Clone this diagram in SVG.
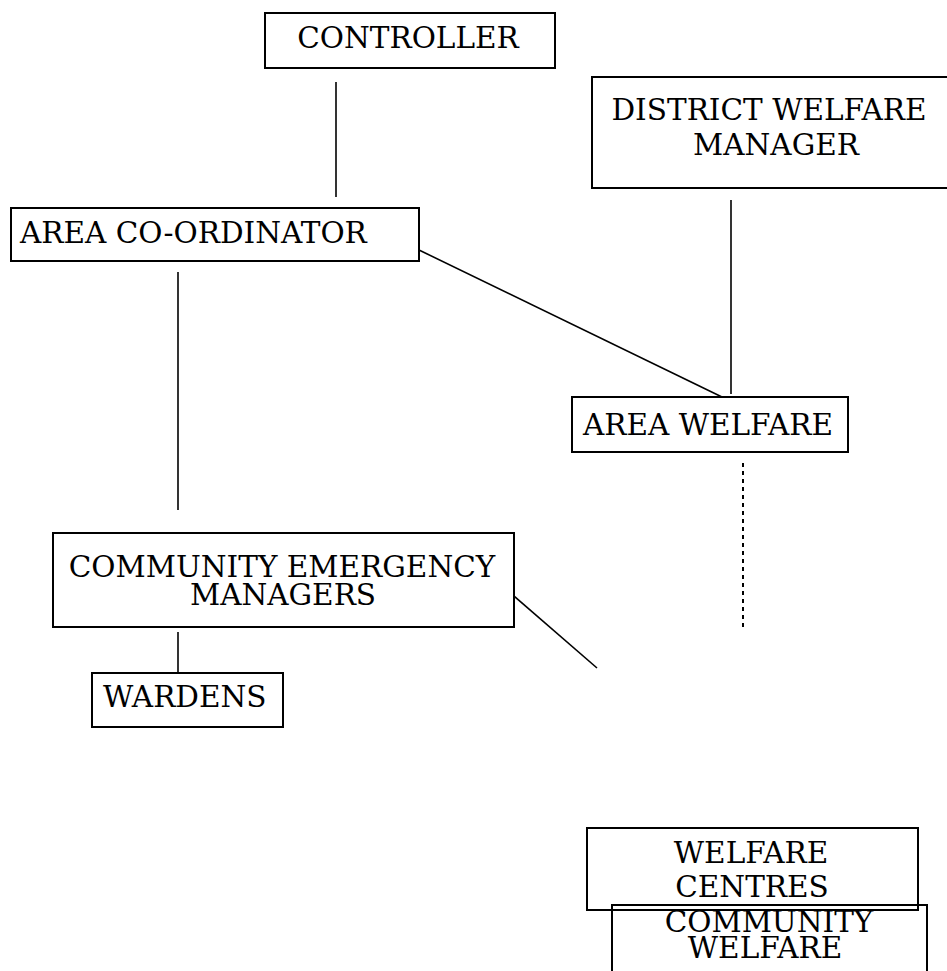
<svg xmlns="http://www.w3.org/2000/svg" width="947" height="971" viewBox="0 0 947 971">
  <style>
    .box { fill: #fff; stroke: #000; stroke-width: 2; }
    .lbl { font-family: "DejaVu Serif", "Liberation Serif", serif; font-size: 29.5px; fill: #000; }
    .mid { text-anchor: middle; }
    .link { stroke: #000; stroke-width: 1.6; fill: none; }
    .dash { stroke-dasharray: 4 4; stroke-width: 2; }
  </style>
  <rect width="947" height="971" fill="#fff"/>

  <!-- connectors -->
  <g id="connectors">
    <line class="link" x1="336" y1="82" x2="336" y2="197"/>
    <line class="link" x1="731" y1="200" x2="731" y2="394"/>
    <line class="link" x1="419" y1="250" x2="722" y2="397"/>
    <line class="link" x1="178" y1="272" x2="178" y2="510"/>
    <line class="link dash" x1="743" y1="463" x2="743" y2="630"/>
    <line class="link" x1="507" y1="590" x2="597" y2="668"/>
    <line class="link" x1="178" y1="632" x2="178" y2="678"/>
  </g>

  <g id="controller">
    <rect class="box" x="265" y="13" width="290" height="55"/>
    <text class="lbl mid" x="408" y="48">CONTROLLER</text>
  </g>

  <g id="district-welfare-manager">
    <rect class="box" x="592" y="77" width="360" height="111"/>
    <text class="lbl mid" x="769" y="120">DISTRICT WELFARE</text>
    <text class="lbl mid" x="776" y="155">MANAGER</text>
  </g>

  <g id="area-coordinator">
    <rect class="box" x="11" y="208" width="408" height="53"/>
    <text class="lbl" x="20" y="243">AREA CO-ORDINATOR</text>
  </g>

  <g id="area-welfare">
    <rect class="box" x="572" y="397" width="276" height="55"/>
    <text class="lbl mid" x="708" y="435">AREA WELFARE</text>
  </g>

  <g id="community-emergency-managers">
    <rect class="box" x="53" y="533" width="461" height="94"/>
    <text class="lbl mid" x="282" y="577">COMMUNITY EMERGENCY</text>
    <text class="lbl mid" x="283" y="605">MANAGERS</text>
  </g>

  <g id="wardens">
    <rect class="box" x="92" y="673" width="191" height="54"/>
    <text class="lbl" x="103" y="707">WARDENS</text>
  </g>

  <g id="welfare-centres">
    <rect class="box" x="587" y="828" width="331" height="82"/>
    <text class="lbl mid" x="751" y="863">WELFARE</text>
    <text class="lbl mid" x="752" y="897">CENTRES</text>
  </g>

  <g id="community-welfare">
    <rect class="box" x="612" y="905" width="315" height="80" fill="none" style="fill:none"/>
    <text class="lbl mid" x="769" y="932">COMMUNITY</text>
    <text class="lbl mid" x="765" y="958">WELFARE</text>
  </g>
</svg>
